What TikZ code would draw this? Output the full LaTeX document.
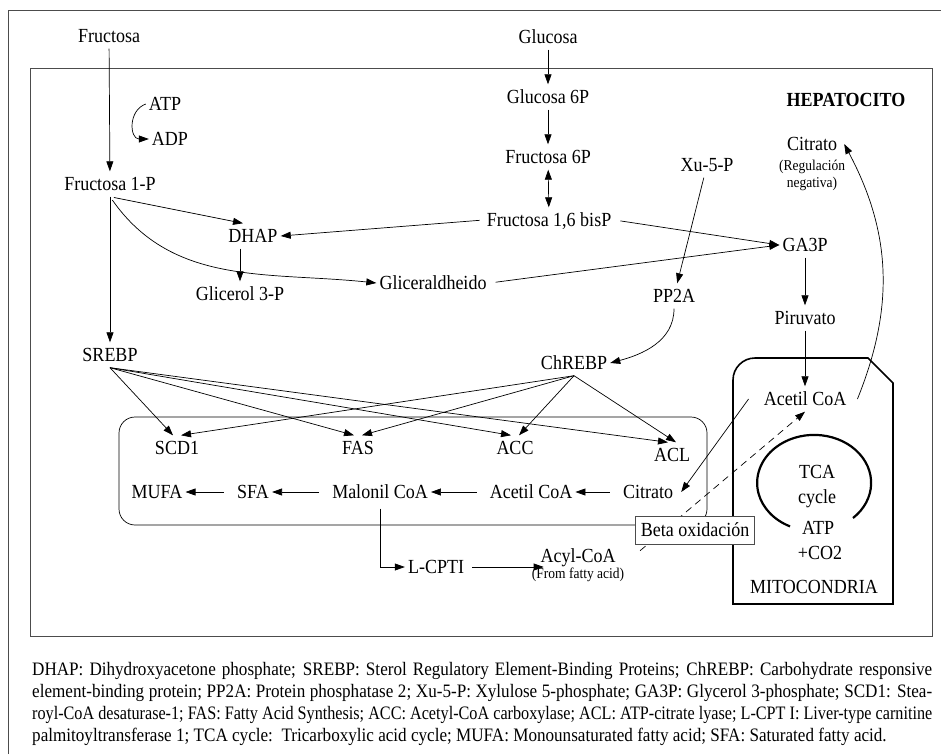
\documentclass[tikz,border=0pt]{standalone}
\usepackage{fontspec}
\setmainfont{Liberation Serif}[FakeStretch=0.9]
\usetikzlibrary{arrows.meta}
\tikzset{
  lbl/.style={inner xsep=3pt,inner ysep=6pt,text height=13pt,text depth=0pt,font=\fontsize{20}{24}\selectfont},
  sml/.style={inner sep=1pt,align=center,font=\fontsize{15}{17}\selectfont},
  arr/.style={-{Triangle[length=10pt,width=7pt]},line width=0.7pt},
  darr/.style={{Triangle[length=10pt,width=7pt]}-{Triangle[length=10pt,width=7pt]},line width=0.7pt},
  frame/.style={draw=black!70,line width=1pt},
  memb/.style={line width=1.6pt},
}
\begin{document}
\begin{tikzpicture}[x=1pt,y=1pt]
\useasboundingbox (0,0) rectangle (941,-754);
\draw[frame] (8,-754) -- (8,-11) -- (941,-11);
\draw[frame] (30,-69) rectangle (932,-636);
\draw[line width=0.7pt,rounded corners=16pt] (119,-417) rectangle (707,-525);
\draw[memb] (733,-604) -- (733,-380) arc[start angle=180,end angle=90,radius=22] -- (868,-358) -- (893,-383) -- (893,-604) -- cycle;
\draw[line width=2.2pt] (853,-518) arc[start angle=-47,end angle=245,x radius=57,y radius=48];
\node[lbl] (fru) at (109,-36) {Fructosa};
\node[lbl] (glc) at (548,-37) {Glucosa};
\node[lbl] (atp) at (165,-104) {ATP};
\node[lbl] (adp) at (170,-139) {ADP};
\node[lbl] (fru1p) at (110,-184) {Fructosa 1-P};
\node[lbl] (g6p) at (548,-97) {Glucosa 6P};
\node[lbl] (f6p) at (548,-157) {Fructosa 6P};
\node[lbl] (f16bp) at (549,-220) {Fructosa 1,6 bisP};
\node[lbl,font=\fontsize{20}{24}\selectfont\bfseries] (hep) at (846,-100) {HEPATOCITO};
\node[lbl] (citr) at (812,-144) {Citrato};
\node[sml] (regneg) at (812,-175) {(Regulación\\negativa)};
\node[lbl] (xu5p) at (707,-165) {Xu-5-P};
\node[lbl] (dhap) at (253,-236) {DHAP};
\node[lbl] (glic3p) at (240,-294) {Glicerol 3-P};
\node[lbl] (glald) at (433,-283) {Gliceraldheido};
\node[lbl] (ga3p) at (805,-245) {GA3P};
\node[lbl] (pp2a) at (674,-296) {PP2A};
\node[lbl] (piru) at (805,-318) {Piruvato};
\node[lbl] (srebp) at (110,-355) {SREBP};
\node[lbl] (chrebp) at (574,-363) {ChREBP};
\node[lbl] (scd1) at (177,-448) {SCD1};
\node[lbl] (fas) at (358,-448) {FAS};
\node[lbl] (acc) at (515,-448) {ACC};
\node[lbl] (acl) at (672,-455) {ACL};
\node[lbl] (mufa) at (157,-492) {MUFA};
\node[lbl] (sfa) at (253,-492) {SFA};
\node[lbl] (malo) at (380,-492) {Malonil CoA};
\node[lbl] (acoa) at (531,-492) {Acetil CoA};
\node[lbl] (citl) at (648,-492) {Citrato};
\node[lbl] (lcpti) at (436,-567) {L-CPTI};
\node[lbl] (acyl) at (578,-556) {Acyl-CoA};
\node[sml] (fromfa) at (578,-575) {(From fatty acid)};
\node[lbl] (acm) at (805,-399) {Acetil CoA};
\node[lbl] (tca) at (817,-472) {TCA};
\node[lbl] (cyc) at (817,-497) {cycle};
\node[lbl] (atp2) at (818,-528) {ATP};
\node[lbl] (co2) at (820,-553) {+CO2};
\node[lbl] (mito) at (814,-587) {MITOCONDRIA};
\draw[arr] (fru) -- (fru1p);
\draw[arr] (glc) -- (g6p);
\draw[arr] (g6p) -- (f6p);
\draw[darr] (f6p) -- (f16bp);
\draw[arr] (atp.west) to[out=200,in=180,looseness=1.4] (adp.west);
\draw[arr,shorten <=4pt] (fru1p.south) -- ([xshift=-10pt]dhap.north);
\draw[arr,shorten <=4pt] (fru1p.south) to[out=-55,in=174] (glald.west);
\draw[arr] (fru1p) -- (srebp);
\draw[arr] (dhap.south -| glic3p) -- (glic3p);
\draw[arr,shorten <=4pt] (f16bp.west) -- (dhap.east);
\draw[arr,shorten <=6pt] (f16bp.east) -- (ga3p.west);
\draw[arr,shorten <=6pt] (glald.east) -- (ga3p.west);
\draw[arr] (xu5p) -- (pp2a);
\draw[arr] (ga3p) -- (piru);
\draw[arr] (pp2a.south) to[out=-90,in=15] (chrebp.east);
\foreach \t in {scd1,fas,acc,acl}
  \draw[arr] (srebp.south) -- ([xshift=-4pt]\t.north);
\foreach \t in {scd1,fas,acc,acl}
  \draw[arr] (chrebp.south) -- ([xshift=4pt]\t.north);
\draw[arr,shorten <=10pt] (citl) -- (acoa);
\draw[arr,shorten <=10pt] (acoa) -- (malo);
\draw[arr,shorten <=10pt] (malo) -- (sfa);
\draw[arr,shorten <=10pt] (sfa) -- (mufa);
\draw[arr,shorten <=4pt] (malo.south) |- (lcpti.west);
\draw[arr,shorten <=5pt,shorten >=-13pt] (lcpti.east) -- (lcpti.east -| fromfa.west);
\draw[arr] (piru) -- (acm);
\draw[arr] ([xshift=-12pt]acm.west) -- ([xshift=5pt]citl.east);
\draw[arr] ([xshift=8pt]acm.east) to[out=68,in=-62] ([xshift=4pt]citr.east);
\draw[arr,dashed,dash pattern=on 7pt off 5pt,shorten <=28pt] (acyl.south east) -- (acm.south);
\node[lbl,draw=black!70,fill=white,line width=0.8pt,minimum height=28pt,inner xsep=5pt] (beta) at (695,-530) {Beta oxidación};
\node[anchor=north west,inner sep=0pt,align=left,font=\fontsize{19}{22}\selectfont] (cap) at (32,-662) {%
\makebox[900pt][s]{DHAP: Dihydroxyacetone phosphate; SREBP: Sterol Regulatory Element-Binding Proteins; ChREBP: Carbohydrate responsive}\\
\makebox[900pt][s]{element-binding protein; PP2A: Protein phosphatase 2; Xu-5-P: Xylulose 5-phosphate; GA3P: Glycerol 3-phosphate; SCD1: Stea-}\\
\resizebox{900pt}{\height}{royl-CoA desaturase-1; FAS: Fatty Acid Synthesis; ACC: Acetyl-CoA carboxylase; ACL: ATP-citrate lyase; L-CPT I: Liver-type carnitine}\\
palmitoyltransferase 1; TCA cycle:\ \ Tricarboxylic acid cycle; MUFA: Monounsaturated fatty acid; SFA: Saturated fatty acid.};
\end{tikzpicture}
\end{document}
